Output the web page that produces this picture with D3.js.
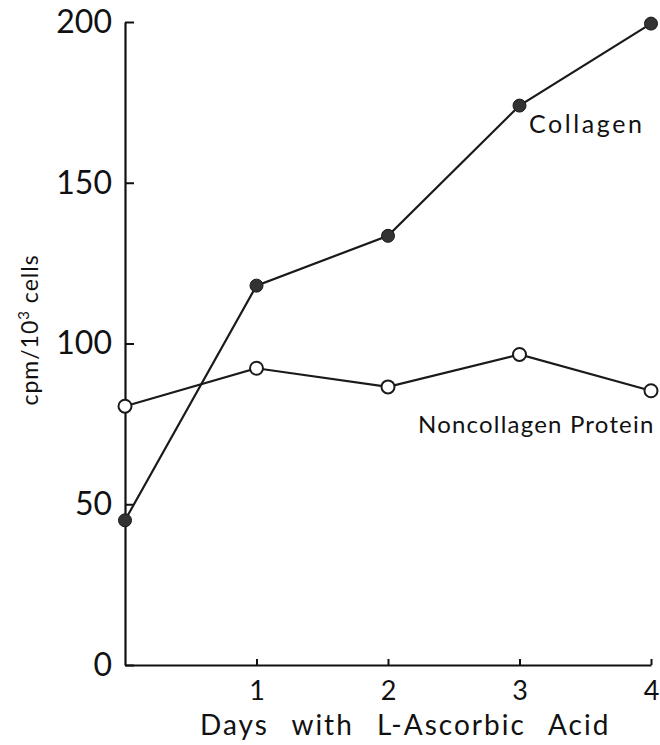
<!DOCTYPE html>
<html lang="en">
<head>
  <title>Collagen synthesis</title>
  <style>
    body { margin: 0; background: #fff; }
    text { font-family: Lato, "Open Sans", sans-serif; fill: #111; }
  </style>
</head>
<body>
  <script src="https://d3js.org/d3.v7.min.js"></script>
  <svg></svg>
  <script>

// values
var days = [0, 1, 2, 3, 4];
var collagen = [45, 118, 133.5, 174, 199.5];
var noncollagen = [80.5, 92.3, 86.5, 96.6, 85.3];
var xTicks = [1, 2, 3, 4];
var yTicks = [0, 50, 100, 150, 200];

var width = 660, height = 745;

var svg = d3.select('svg')
            .attr('width', width)
            .attr('height', height);

var xScale = d3.scaleLinear().domain([0, 4]).range([125, 651]);
var yScale = d3.scaleLinear().domain([0, 200]).range([665, 22]);

// y axis, ticks pointing inward
var yAxis = svg.append('g')
   .attr('transform', 'translate(' + xScale(0) + ',0)')
   .call(d3.axisLeft(yScale).tickValues(yTicks).tickSizeInner(-9).tickSizeOuter(0).tickPadding(13));
yAxis.select('.domain').attr('stroke', '#111').attr('stroke-width', 2.2);
yAxis.selectAll('.tick line').attr('stroke', '#111').attr('stroke-width', 2);
yAxis.selectAll('.tick text')
   .attr('font-size', '32px')
   .attr('font-family', 'Lato, sans-serif')
   .attr('fill', '#111');

// x axis
var xAxis = svg.append('g')
   .attr('transform', 'translate(0,' + yScale(0) + ')')
   .call(d3.axisBottom(xScale).tickValues(xTicks).tickFormat(d3.format('d'))
           .tickSizeInner(-6).tickSizeOuter(0).tickPadding(16));
xAxis.select('.domain').attr('stroke', '#111').attr('stroke-width', 2.2);
xAxis.selectAll('.tick line').attr('stroke', '#111').attr('stroke-width', 2);
xAxis.selectAll('.tick text')
   .attr('font-size', '27px')
   .attr('font-family', 'Lato, sans-serif')
   .attr('fill', '#111');

// axis titles
svg.append('text')
   .attr('x', 200)
   .attr('y', 735)
   .attr('font-size', '28px')
   .attr('letter-spacing', '2px')
   .attr('word-spacing', '14px')
   .text('Days with L-Ascorbic Acid');

svg.append('text')
   .attr('transform', 'translate(38,330) rotate(-90)')
   .attr('text-anchor', 'middle')
   .attr('font-size', '23px')
   .attr('letter-spacing', '1px')
   .html('cpm/10<tspan dy="-9" font-size="15px">3</tspan><tspan dy="9"> cells</tspan>');

var line = d3.line()
   .x(function(d, i) { return xScale(days[i]); })
   .y(function(d) { return yScale(d); });

[collagen, noncollagen].forEach(function(series) {
  svg.append('path')
     .attr('d', line(series))
     .attr('fill', 'none')
     .attr('stroke', '#1a1a1a')
     .attr('stroke-width', 2.2);
});

// filled dots for collagen
svg.selectAll('circle.col')
   .data(collagen)
   .enter()
   .append('circle')
   .attr('class', 'col')
   .attr('cx', function(d, i) { return xScale(days[i]); })
   .attr('cy', function(d) { return yScale(d); })
   .attr('r', 6.5)
   .attr('fill', '#333')
   .attr('stroke', '#1a1a1a')
   .attr('stroke-width', 1);

// open dots for noncollagen protein
svg.selectAll('circle.nc')
   .data(noncollagen)
   .enter()
   .append('circle')
   .attr('class', 'nc')
   .attr('cx', function(d, i) { return xScale(days[i]); })
   .attr('cy', function(d) { return yScale(d); })
   .attr('r', 6.5)
   .attr('fill', '#fff')
   .attr('stroke', '#1a1a1a')
   .attr('stroke-width', 2);

// series labels
svg.append('text')
   .attr('x', 529)
   .attr('y', 133)
   .attr('font-size', '25px')
   .attr('letter-spacing', '2.6px')
   .text('Collagen');

svg.append('text')
   .attr('x', 418)
   .attr('y', 433)
   .attr('font-size', '24px')
   .attr('letter-spacing', '1.2px')
   .text('Noncollagen Protein');

  </script>
</body>
</html>
